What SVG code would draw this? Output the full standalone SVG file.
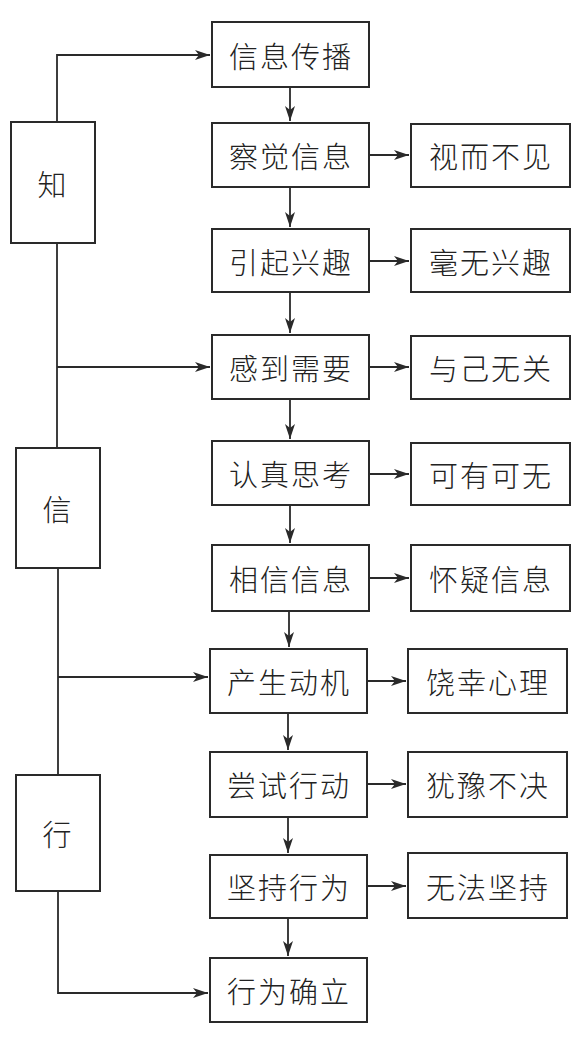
<svg xmlns="http://www.w3.org/2000/svg" width="576" height="1041" viewBox="0 0 576 1041">
<style>
.box{fill:#fff;stroke:#2a2a2a;stroke-width:2}
.t{font-family:"Noto Sans CJK SC","Noto Sans CJK JP",sans-serif;font-size:29px;font-weight:300;fill:#222;text-anchor:middle;dominant-baseline:central;letter-spacing:2px}
.c{fill:none;stroke:#2a2a2a;stroke-width:1.8}
</style>
<defs>
<marker id="ah" markerWidth="16" markerHeight="10" refX="15" refY="5" orient="auto" markerUnits="userSpaceOnUse">
<path d="M0,0 L15,5 L0,10 L4,5 z" fill="#2a2a2a"/>
</marker>
</defs>
<g id="connectors">
<path class="c" d="M57,122 V55 H210" marker-end="url(#ah)"/>
<path class="c" d="M57,243 V448"/>
<path class="c" d="M57,367 H210" marker-end="url(#ah)"/>
<path class="c" d="M58,568 V775"/>
<path class="c" d="M58,677 H208" marker-end="url(#ah)"/>
<path class="c" d="M58,891 V993 H208" marker-end="url(#ah)"/>
<path class="c" d="M290,87 V121" marker-end="url(#ah)"/>
<path class="c" d="M290,187 V227" marker-end="url(#ah)"/>
<path class="c" d="M290,292 V333" marker-end="url(#ah)"/>
<path class="c" d="M290,399 V439" marker-end="url(#ah)"/>
<path class="c" d="M290,505 V543" marker-end="url(#ah)"/>
<path class="c" d="M289,611 V647" marker-end="url(#ah)"/>
<path class="c" d="M288,713 V750" marker-end="url(#ah)"/>
<path class="c" d="M288,817 V853" marker-end="url(#ah)"/>
<path class="c" d="M288,918 V956" marker-end="url(#ah)"/>
<path class="c" d="M369,155 H409" marker-end="url(#ah)"/>
<path class="c" d="M369,261 H409" marker-end="url(#ah)"/>
<path class="c" d="M369,367 H409" marker-end="url(#ah)"/>
<path class="c" d="M369,474 H409" marker-end="url(#ah)"/>
<path class="c" d="M369,578 H409" marker-end="url(#ah)"/>
<path class="c" d="M367,681 H406" marker-end="url(#ah)"/>
<path class="c" d="M367,784 H406" marker-end="url(#ah)"/>
<path class="c" d="M367,886 H406" marker-end="url(#ah)"/>
</g>
<g id="n-zhi"><rect class="box" x="11" y="122" width="84" height="121"/><text class="t" x="53" y="183">知</text></g>
<g id="n-xin"><rect class="box" x="16" y="448" width="84" height="120"/><text class="t" x="58" y="508">信</text></g>
<g id="n-xing"><rect class="box" x="16" y="775" width="84" height="116"/><text class="t" x="58" y="833">行</text></g>
<g id="n1"><rect class="box" x="212" y="22" width="157" height="65"/><text class="t" x="291" y="55">信息传播</text></g>
<g id="n2"><rect class="box" x="212" y="123" width="157" height="64"/><text class="t" x="291" y="155">察觉信息</text></g>
<g id="n3"><rect class="box" x="212" y="229" width="157" height="63"/><text class="t" x="291" y="261">引起兴趣</text></g>
<g id="n4"><rect class="box" x="212" y="335" width="157" height="64"/><text class="t" x="291" y="367">感到需要</text></g>
<g id="n5"><rect class="box" x="212" y="441" width="157" height="64"/><text class="t" x="291" y="473">认真思考</text></g>
<g id="n6"><rect class="box" x="212" y="545" width="157" height="66"/><text class="t" x="291" y="578">相信信息</text></g>
<g id="n7"><rect class="box" x="210" y="649" width="157" height="64"/><text class="t" x="289" y="681">产生动机</text></g>
<g id="n8"><rect class="box" x="210" y="752" width="157" height="65"/><text class="t" x="289" y="784">尝试行动</text></g>
<g id="n9"><rect class="box" x="210" y="855" width="157" height="63"/><text class="t" x="289" y="886">坚持行为</text></g>
<g id="n10"><rect class="box" x="210" y="958" width="157" height="64"/><text class="t" x="289" y="990">行为确立</text></g>
<g id="r2"><rect class="box" x="411" y="124" width="159" height="63"/><text class="t" x="491" y="155">视而不见</text></g>
<g id="r3"><rect class="box" x="411" y="229" width="159" height="63"/><text class="t" x="491" y="261">毫无兴趣</text></g>
<g id="r4"><rect class="box" x="411" y="336" width="159" height="63"/><text class="t" x="491" y="367">与己无关</text></g>
<g id="r5"><rect class="box" x="411" y="443" width="159" height="62"/><text class="t" x="491" y="474">可有可无</text></g>
<g id="r6"><rect class="box" x="411" y="545" width="159" height="66"/><text class="t" x="491" y="578">怀疑信息</text></g>
<g id="r7"><rect class="box" x="408" y="649" width="159" height="64"/><text class="t" x="488" y="681">饶幸心理</text></g>
<g id="r8"><rect class="box" x="408" y="752" width="159" height="65"/><text class="t" x="488" y="784">犹豫不决</text></g>
<g id="r9"><rect class="box" x="408" y="853" width="159" height="65"/><text class="t" x="488" y="886">无法坚持</text></g>
</svg>
